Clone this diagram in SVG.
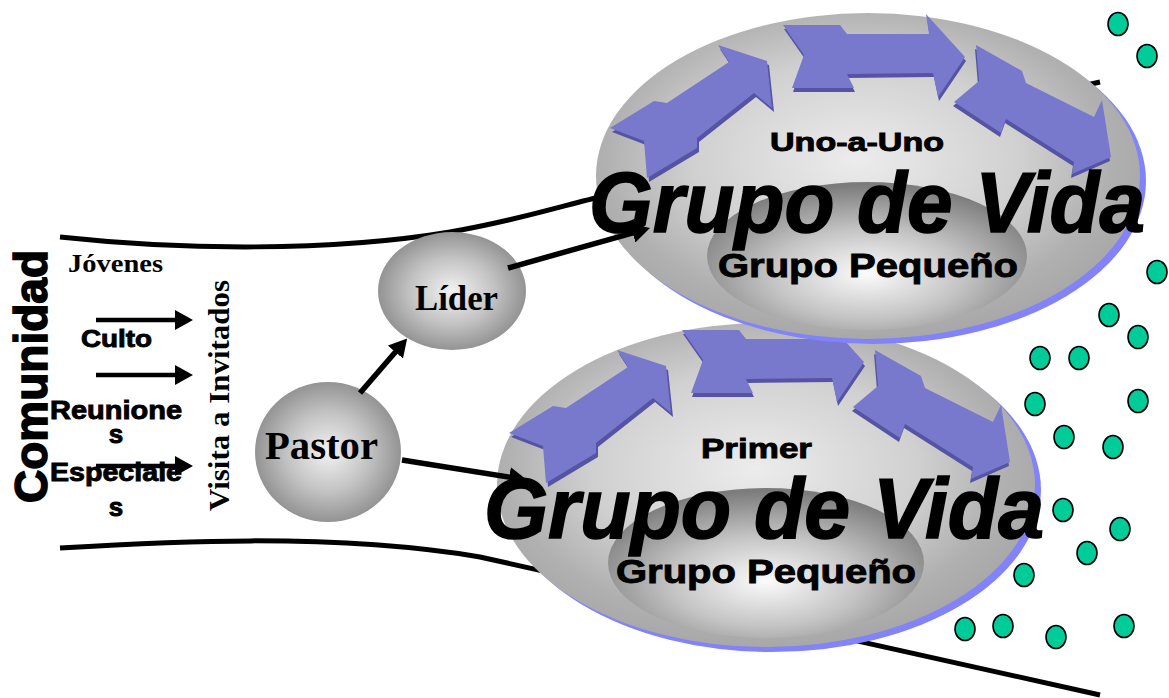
<svg xmlns="http://www.w3.org/2000/svg" xmlns:xlink="http://www.w3.org/1999/xlink" width="1169" height="698" viewBox="0 0 1169 698">
<defs>
<style>
.bA{font-family:"Liberation Sans",Arial,sans-serif;font-weight:bold;fill:#000;stroke:#000;stroke-width:0.9;paint-order:stroke}
.big{stroke-width:1.6}
.bT{font-family:"Liberation Serif","Times New Roman",serif;font-weight:bold;fill:#000}
.bnd{fill:none;stroke:#000;stroke-width:5}
.con{fill:none;stroke:#000;stroke-width:5.5;marker-end:url(#ah)}
.sm{fill:none;stroke:#000;stroke-width:4.5;marker-end:url(#ah)}
.dot{fill:#00cc99;stroke:#000;stroke-width:1.6}
.shadow{fill:#8282fa}
.face{fill:#7878cc}
.side{fill:#5454a2}
</style>
<marker id="ah" viewBox="0 0 9 10" refX="2" refY="5" markerWidth="18" markerHeight="20" markerUnits="userSpaceOnUse" orient="auto">
<path d="M0,0 L9,5 L0,10 z" fill="#000"/>
</marker>
<radialGradient id="gOuter" cx="0.48" cy="0.45" r="0.55">
<stop offset="0" stop-color="#ececec"/>
<stop offset="0.55" stop-color="#d0d0d0"/>
<stop offset="0.85" stop-color="#b0b0b0"/>
<stop offset="1" stop-color="#a8a8a8"/>
</radialGradient>
<radialGradient id="gInner" cx="0.5" cy="0.62" r="0.6">
<stop offset="0" stop-color="#fbfbfb"/>
<stop offset="0.5" stop-color="#c4c4c4"/>
<stop offset="1" stop-color="#7c7c7c"/>
</radialGradient>
<radialGradient id="gNode" cx="0.5" cy="0.5" r="0.52">
<stop offset="0" stop-color="#f2f2f2"/>
<stop offset="0.55" stop-color="#c2c2c2"/>
<stop offset="1" stop-color="#8f8f8f"/>
</radialGradient>
<polygon id="a1" points="610,128 654,101 667,103 729,62 718,45 767,61 772,108 754,93 697,138 697,148 647,178 644,141"/>
<polygon id="a2" points="783,25 840,25 847,34 929,34 926,14 965,57 938,97 933,73 847,74 854,88 792,88 804,55"/>
<polygon id="a3" points="976,45 1022,71 1026,83 1094,117 1102,100 1111,157 1072,174 1074,162 1006,119 1001,133 954,102 979,81"/>
<g id="arrowSet">
<use xlink:href="#a1" href="#a1" class="side" transform="translate(2,4)"/>
<use xlink:href="#a2" href="#a2" class="side" transform="translate(1,4)"/>
<use xlink:href="#a3" href="#a3" class="side" transform="translate(-1,4)"/>
<use xlink:href="#a1" href="#a1" class="face"/>
<use xlink:href="#a2" href="#a2" class="face"/>
<use xlink:href="#a3" href="#a3" class="face"/>
</g>
</defs>
<rect x="0" y="0" width="1169" height="698" fill="#fff"/>

<g id="boundaries">
<path class="bnd" d="M60,237 C180,250 330,252 450,232 C520,220 560,206 600,197 L1100,82"/>
<path class="bnd" d="M60,548 C160,542 330,532 480,557 L1100,695"/>
</g>

<g id="grupo-primer">
<ellipse class="shadow" cx="772" cy="490" rx="269" ry="162"/>
<ellipse cx="766" cy="485" rx="269" ry="162" fill="url(#gOuter)"/>
<ellipse cx="766" cy="563" rx="158" ry="75" fill="url(#gInner)"/>
<use xlink:href="#arrowSet" href="#arrowSet" transform="translate(-101,305)"/>
<text class="bA" x="701" y="458" font-size="28" textLength="111" lengthAdjust="spacingAndGlyphs">Primer</text>
<text class="bA big" x="484" y="538" font-size="86" font-style="italic" textLength="560" lengthAdjust="spacingAndGlyphs">Grupo de Vida</text>
<text class="bA" x="616" y="583" font-size="34" textLength="300" lengthAdjust="spacingAndGlyphs">Grupo Pequeño</text>
</g>

<g id="grupo-uno">
<ellipse class="shadow" cx="874" cy="181" rx="272" ry="163"/>
<ellipse cx="868" cy="176" rx="272" ry="163" fill="url(#gOuter)"/>
<ellipse cx="867" cy="256" rx="160" ry="74" fill="url(#gInner)"/>
<use xlink:href="#arrowSet" href="#arrowSet"/>
<text class="bA" x="770" y="151" font-size="26" textLength="174" lengthAdjust="spacingAndGlyphs">Uno-a-Uno</text>
<text class="bA big" x="589" y="232" font-size="86" font-style="italic" textLength="556" lengthAdjust="spacingAndGlyphs">Grupo de Vida</text>
<text class="bA" x="718" y="277" font-size="34" textLength="300" lengthAdjust="spacingAndGlyphs">Grupo Pequeño</text>
</g>

<g id="lider">
<ellipse cx="452" cy="291" rx="74" ry="59" fill="url(#gNode)"/>
<text class="bT" x="415" y="310" font-size="36" textLength="83" lengthAdjust="spacingAndGlyphs">Líder</text>
</g>

<g id="pastor">
<ellipse cx="328" cy="452" rx="73" ry="70" fill="url(#gNode)"/>
<text class="bT" x="265" y="459" font-size="40" textLength="113" lengthAdjust="spacingAndGlyphs">Pastor</text>
</g>

<g id="comunidad">
<text class="bA big" transform="translate(47,503) rotate(-90)" font-size="46" textLength="253" lengthAdjust="spacingAndGlyphs">Comunidad</text>
<text class="bT" x="68" y="272" font-size="26" textLength="95" lengthAdjust="spacingAndGlyphs">Jóvenes</text>
<text class="bA" x="81" y="347" font-size="24" textLength="71" lengthAdjust="spacingAndGlyphs">Culto</text>
<text class="bA" x="50" y="419" font-size="26" textLength="132" lengthAdjust="spacingAndGlyphs">Reunione</text>
<text class="bA" x="116" y="443" font-size="26" text-anchor="middle">s</text>
<text class="bA" x="50" y="481" font-size="26" textLength="132" lengthAdjust="spacingAndGlyphs">Especiale</text>
<text class="bA" x="116" y="516" font-size="26" text-anchor="middle">s</text>
<text class="bT" transform="translate(229,511) rotate(-90)" font-size="30" textLength="231" lengthAdjust="spacingAndGlyphs">Visita a Invitados</text>
</g>

<g id="connectors">
<line class="sm" x1="96" y1="320" x2="179" y2="320"/>
<line class="sm" x1="96" y1="375" x2="179" y2="375"/>
<line class="sm" x1="96" y1="466" x2="179" y2="466"/>
<line class="con" x1="360" y1="393" x2="398" y2="349"/>
<line class="con" x1="508" y1="268" x2="636.5" y2="231.8"/>
<line class="con" x1="402" y1="460" x2="513.2" y2="477.8"/>
</g>

<g id="dots">
<ellipse class="dot" cx="1118" cy="24" rx="10" ry="11.5"/>
<ellipse class="dot" cx="1147" cy="56" rx="10" ry="11.5"/>
<ellipse class="dot" cx="1157" cy="272" rx="10" ry="11.5"/>
<ellipse class="dot" cx="1109" cy="315" rx="10" ry="11.5"/>
<ellipse class="dot" cx="1138" cy="337" rx="10" ry="11.5"/>
<ellipse class="dot" cx="1040" cy="358" rx="10" ry="11.5"/>
<ellipse class="dot" cx="1079" cy="358" rx="10" ry="11.5"/>
<ellipse class="dot" cx="1035" cy="404" rx="10" ry="11.5"/>
<ellipse class="dot" cx="1138" cy="401" rx="10" ry="11.5"/>
<ellipse class="dot" cx="1064" cy="437" rx="10" ry="11.5"/>
<ellipse class="dot" cx="1113" cy="447" rx="10" ry="11.5"/>
<ellipse class="dot" cx="1063" cy="510" rx="10" ry="11.5"/>
<ellipse class="dot" cx="1120" cy="529" rx="10" ry="11.5"/>
<ellipse class="dot" cx="1087" cy="553" rx="10" ry="11.5"/>
<ellipse class="dot" cx="1024" cy="575" rx="10" ry="11.5"/>
<ellipse class="dot" cx="965" cy="629" rx="10" ry="11.5"/>
<ellipse class="dot" cx="1003" cy="626" rx="10" ry="11.5"/>
<ellipse class="dot" cx="1056" cy="637" rx="10" ry="11.5"/>
<ellipse class="dot" cx="1124" cy="626" rx="10" ry="11.5"/>
</g>
</svg>
